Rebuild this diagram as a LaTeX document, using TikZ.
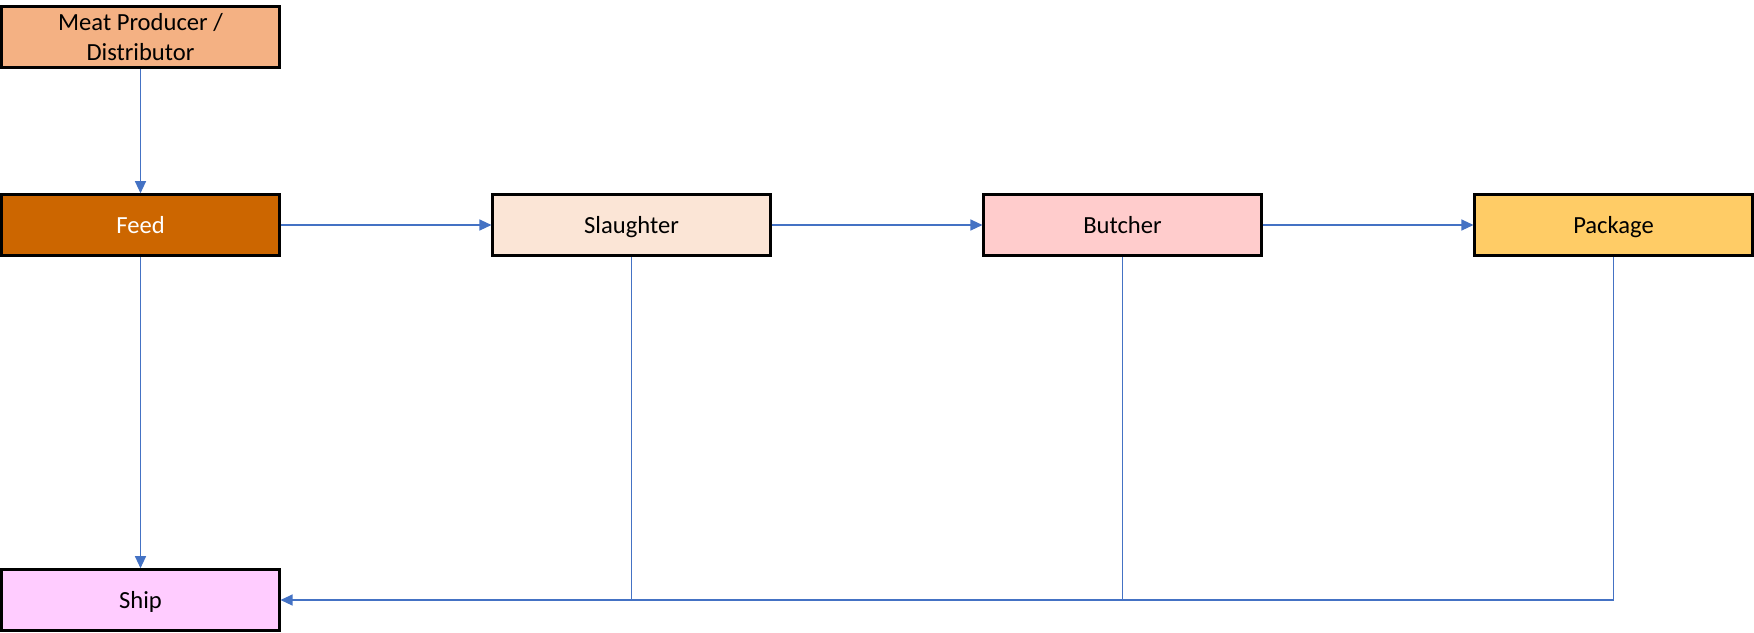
\documentclass[tikz,border=0pt]{standalone}
\usepackage{fontspec}
\setmainfont{Carlito}
\usetikzlibrary{arrows.meta}
\definecolor{conn}{HTML}{4472C4}
\definecolor{cMeat}{HTML}{F4B183}
\definecolor{cFeed}{HTML}{CC6600}
\definecolor{cSlaughter}{HTML}{FBE5D6}
\definecolor{cButcher}{HTML}{FFCCCC}
\definecolor{cPackage}{HTML}{FFCC66}
\definecolor{cShip}{HTML}{FFCCFF}
\tikzset{
  box/.style={draw=black, line width=2.6pt, rectangle, minimum width=277.5pt, minimum height=61pt,
    inner sep=0pt, align=center, font=\fontsize{24.6}{30}\selectfont, text=black},
  onebox/.style={box, text height=19.6pt, text depth=3.6pt},
  link/.style={draw=conn, line width=1.2pt},
  arr/.style={link, -{Triangle[length=12pt,width=11pt]}}
}
\begin{document}
\begin{tikzpicture}[x=1pt, y=-1pt]
\useasboundingbox (0,0) rectangle (1754,632);
\node[box, fill=cMeat] (meat) at (140.5,37) {Meat Producer /\\Distributor};
\node[onebox, fill=cFeed, text=white] (feed) at (140.5,225) {Feed};
\node[onebox, fill=cSlaughter] (slaughter) at (631.5,225) {Slaughter};
\node[onebox, fill=cButcher] (butcher) at (1122.5,225) {Butcher};
\node[onebox, fill=cPackage] (package) at (1613.5,225) {Package};
\node[onebox, fill=cShip] (ship) at (140.5,600) {Ship};
\draw[arr] (meat.south) -- (feed.north);
\draw[arr] (feed.east) -- (slaughter.west);
\draw[arr] (slaughter.east) -- (butcher.west);
\draw[arr] (butcher.east) -- (package.west);
\draw[arr] (feed.south) -- (ship.north);
\draw[link] (slaughter.south) -- (slaughter.south |- ship.east);
\draw[link] (butcher.south) -- (butcher.south |- ship.east);
\draw[link] (package.south) -- (package.south |- ship.east) -- (slaughter.south |- ship.east);
\draw[arr] (slaughter.south |- ship.east) -- (ship.east);
\end{tikzpicture}
\end{document}
